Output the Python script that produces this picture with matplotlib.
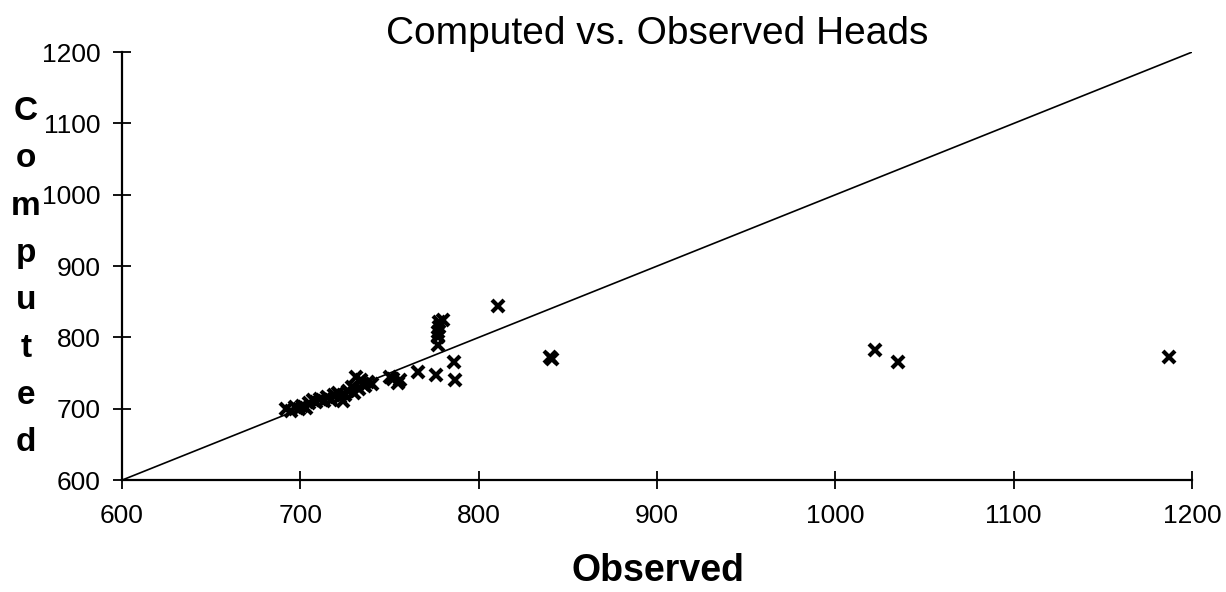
import matplotlib
matplotlib.use("Agg")
import matplotlib.pyplot as plt

# observed vs computed heads
observed = [692, 695, 697, 699, 701, 703, 705, 707, 709, 711, 713, 715, 717,
            719, 721, 722, 724, 725, 727, 729, 730, 731, 733, 734, 735, 736,
            738, 740, 750, 752, 755, 756, 766, 776, 777, 777, 777, 778, 778,
            780, 786, 787, 811, 840, 841, 1022, 1035, 1187]
computed = [700, 697, 702, 699, 704, 701, 708, 712, 709, 714, 711, 716, 713,
            719, 722, 716, 711, 720, 725, 730, 722, 744, 728, 740, 735, 732,
            737, 735, 745, 742, 736, 740, 752, 748, 790, 800, 808, 815, 822,
            825, 766, 740, 844, 772, 770, 782, 765, 773]

ticks = [600, 700, 800, 900, 1000, 1100, 1200]
ylabel_letters = list("Computed")

fig = plt.figure(figsize=(12.26, 5.92), dpi=100)
ax = fig.add_axes([0.0995, 0.189, 0.8728, 0.723])

# 1:1 line
ax.plot([600, 1200], [600, 1200], color="black", linewidth=1.2, zorder=1)
ax.plot(observed, computed, linestyle="none", marker="x", color="black",
        markersize=9, markeredgewidth=3.0, zorder=2)

ax.set_xlim(600, 1200)
ax.set_ylim(600, 1200)
ax.set_xticks(ticks)
ax.set_yticks(ticks)
ax.spines["top"].set_visible(False)
ax.spines["right"].set_visible(False)
for s in ("left", "bottom"):
    ax.spines[s].set_linewidth(1.6)

ax.tick_params(direction="inout", length=13, width=1.3, labelsize=19)
ax.tick_params(axis="x", pad=11)
ax.tick_params(axis="y", pad=9)
for lab in ax.get_xticklabels() + ax.get_yticklabels():
    lab.set_family("Liberation Sans")

ax.set_title("Computed vs. Observed Heads", fontsize=28,
             family="Liberation Sans", pad=6)

fig.text(0.537, 0.018, "Observed", fontsize=27, fontweight="bold",
         family="Liberation Sans", ha="center", va="baseline")

fig.text(0.021, 0.532, "\n".join(ylabel_letters), fontsize=24,
         fontweight="bold", family="Liberation Sans", ha="center",
         va="center", linespacing=1.68)

fig.savefig("out.png", dpi=100)
